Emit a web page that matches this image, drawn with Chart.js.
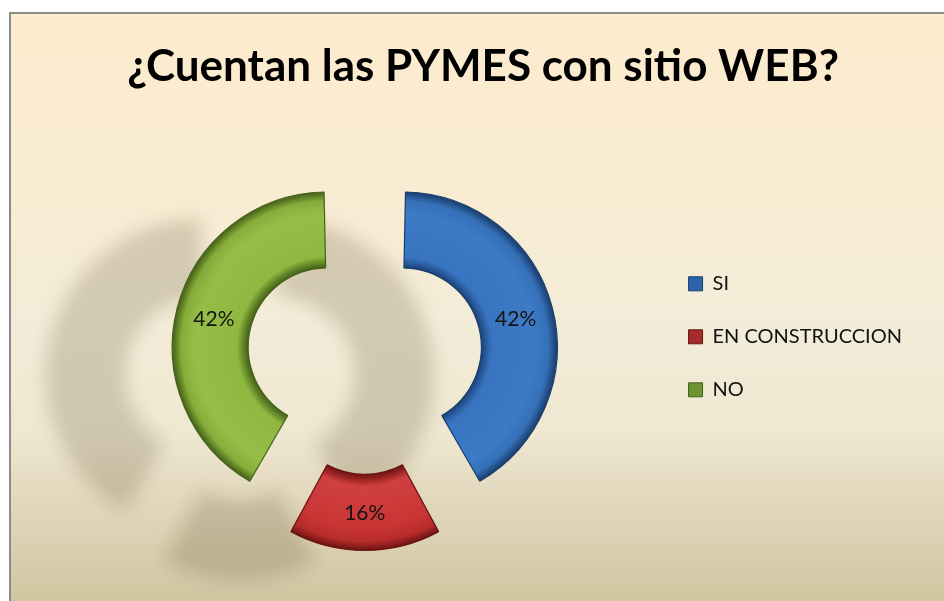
<!DOCTYPE html>
<html><head><meta charset="utf-8">
<script src="https://cdn.jsdelivr.net/npm/chart.js@4.4.0/dist/chart.umd.min.js"></script>
<style>
html,body{margin:0;padding:0;width:944px;height:601px;overflow:hidden;background:#fff;}
#box{position:absolute;left:9px;top:12px;width:935px;height:589px;box-sizing:border-box;
 border-left:2px solid #8c8c8c;border-top:2px solid #8c8c8c;
 background:linear-gradient(to bottom,#fdebcd 0%,#f8ecd2 30%,#f3ecd8 52%,#eee7d1 72%,#e4dbc1 80%,#d2c5a1 100%);}
#box canvas{display:block}
</style></head><body>
<div id="box"><canvas id="c" width="933" height="587"></canvas></div>
<script>
// ---- data ----
const titleText = '¿Cuentan las PYMES con sitio WEB?';
const categories = ['SI', 'EN CONSTRUCCION', 'NO'];
const values = [42, 16, 42];
const valueLabels = ['42%', '16%', '42%'];

// ---- styles ----
const OUTER_R = 155;
const CUTOUT = 0.51;
const LEGEND_DY = 100;
const TITLE_DX = -10;
const ringStops = [
  [[0,'#1b4175'],[0.06,'#28599a'],[0.14,'#3874c0'],[0.7,'#3d7bc7'],[0.88,'#3570b8'],[0.95,'#24528c'],[1,'#1a3d6a']],
  [[0,'#701414'],[0.07,'#9c2424'],[0.16,'#d04040'],[0.7,'#c93535'],[0.88,'#b82c2c'],[0.95,'#8e1e1e'],[1,'#6a1414']],
  [[0,'#45601a'],[0.07,'#648828'],[0.15,'#8fb840'],[0.7,'#95be47'],[0.88,'#86ad3a'],[0.95,'#5f8024'],[1,'#45601a']]
];
const edgeColors = ['#1a3d6a', '#6a1414', '#45601a'];
const legendColors = ['#2d63a8', '#a52a2a', '#6e9430'];

const ArcEl = Chart.registry.getElement('arc');
const origDraw = ArcEl.prototype.draw;
ArcEl.prototype.draw = function(ctx) {
  const off = (this.options.offset || 0) / 4;
  const fix = 1 - Math.sin(Math.min(Math.PI, this.circumference || 0));
  const r = off * fix;
  const o = this.outerRadius, i = this.innerRadius;
  this.outerRadius = o - r; this.innerRadius = i - r;
  origDraw.call(this, ctx);
  this.outerRadius = o; this.innerRadius = i;
};

function ringFill(c) {
  const chart = c.chart, a = chart.chartArea;
  const stops = ringStops[c.dataIndex % ringStops.length];
  if (!a) return stops[3][1];
  const cx = (a.left + a.right) / 2, cy = (a.top + a.bottom) / 2;
  const g = chart.ctx.createRadialGradient(cx, cy, OUTER_R * CUTOUT, cx, cy, OUTER_R);
  stops.forEach(s => g.addColorStop(s[0], s[1]));
  return g;
}

const placementPlugin = {
  id: 'placement',
  afterLayout(chart) {
    const L = chart.legend;
    if (L) { L.top += LEGEND_DY; L.bottom += LEGEND_DY; }
    const T = chart.titleBlock;
    if (T) { T.left += TITLE_DX; T.right += TITLE_DX; }
  }
};

const shadowPlugin = {
  id: 'ringShadow',
  beforeDatasetsDraw(chart) {
    const c = chart.ctx; c.save();
    c.shadowColor = 'rgba(95,80,50,0.22)';
    c.shadowBlur = 18; c.shadowOffsetX = -125; c.shadowOffsetY = 28;
  },
  afterDatasetsDraw(chart) { chart.ctx.restore(); }
};

const valueLabelPlugin = {
  id: 'valueLabels',
  afterDraw(chart) {
    const ctx = chart.ctx, meta = chart.getDatasetMeta(0);
    ctx.save();
    ctx.font = '21px Lato'; ctx.fillStyle = '#141414';
    ctx.textAlign = 'center'; ctx.textBaseline = 'middle';
    meta.data.forEach((arc, i) => {
      const p = arc.getProps(['x','y','startAngle','endAngle','innerRadius','outerRadius']);
      const mid = (p.startAngle + p.endAngle) / 2;
      const rr = (p.innerRadius + p.outerRadius) / 2 + (arc.options.offset || 0) / 4;
      ctx.fillText(valueLabels[i], p.x + Math.cos(mid) * rr, p.y + Math.sin(mid) * rr + 1);
    });
    ctx.restore();
  }
};

const baseGen = Chart.registry.getController('doughnut').overrides.plugins.legend.labels.generateLabels;

new Chart(document.getElementById('c'), {
  type: 'doughnut',
  data: {
    labels: categories,
    datasets: [{
      data: values,
      backgroundColor: ringFill,
      borderColor: edgeColors,
      borderWidth: 1.2,
      offset: 155,
      hoverOffset: 155
    }]
  },
  options: {
    responsive: false,
    animation: false,
    events: [],
    radius: OUTER_R,
    cutout: (CUTOUT * 100) + '%',
    layout: { padding: { left: 63, right: 32, top: 0, bottom: 3 } },
    plugins: {
      tooltip: { enabled: false },
      title: {
        display: true, text: titleText, color: '#000',
        font: { family: 'Lato', size: 44, weight: 'bold' },
        padding: { top: 26, bottom: 22.4 }
      },
      legend: {
        position: 'right', align: 'start',
        title: { display: true, text: ' ', color: 'rgba(0,0,0,0)', font: { size: 10, lineHeight: 12.68 }, padding: 0 },
        labels: {
          boxWidth: 14, boxHeight: 14, padding: 33, color: '#111',
          font: { family: 'Lato', size: 20 },
          generateLabels(chart) {
            return baseGen(chart).map((it, i) => Object.assign({}, it, {
              fillStyle: legendColors[i], strokeStyle: edgeColors[i], lineWidth: 1
            }));
          }
        }
      }
    }
  },
  plugins: [placementPlugin, shadowPlugin, valueLabelPlugin]
});
</script>
</body></html>
